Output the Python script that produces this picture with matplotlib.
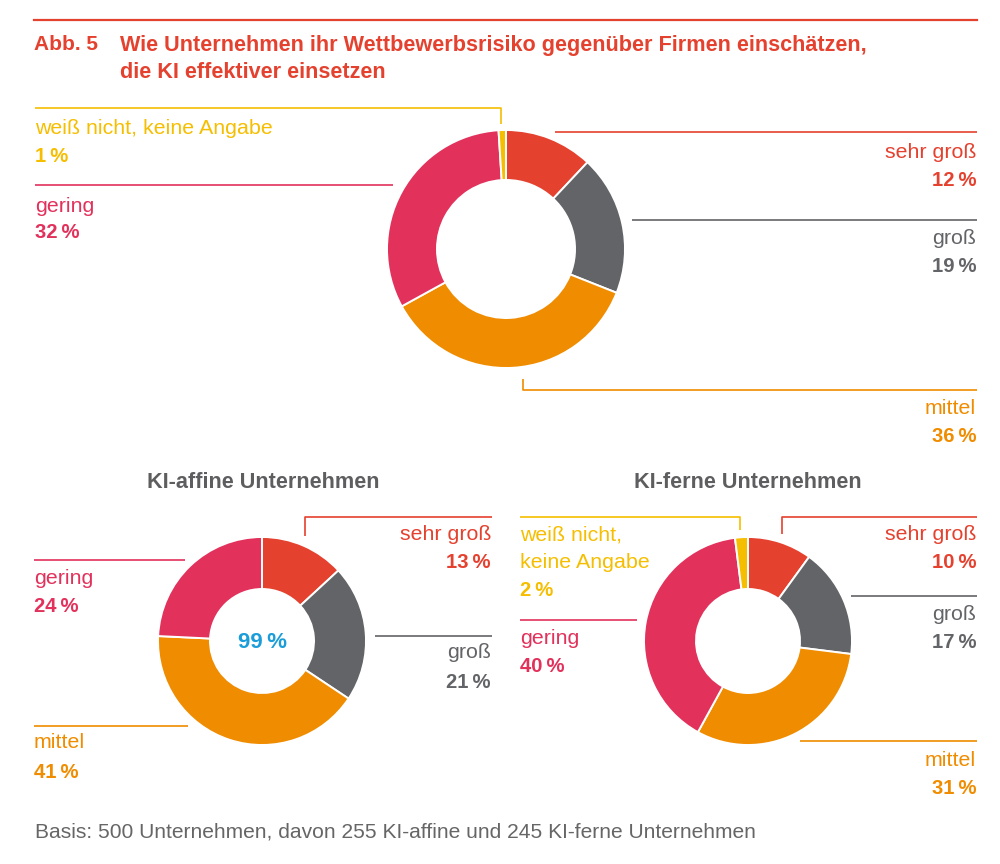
import matplotlib
matplotlib.use("Agg")
import matplotlib.pyplot as plt

plt.rcParams['font.family'] = ['Liberation Sans', 'DejaVu Sans']

# Categories and colours (clockwise from 12 o'clock)
categories = ["sehr groß", "groß", "mittel", "gering", "weiß nicht, keine Angabe"]
cat_colors = ["#E5412F", "#636467", "#F08C00", "#E2315B", "#F6BE00"]

# Shares in percent
alle_werte = [12, 19, 36, 32, 1]
affin_werte = [13, 21, 41, 24]          # no "weiß nicht" slice
fern_werte = [10, 17, 31, 40, 2]
affin_summe = "99\u2009%"

title_nr = "Abb. 5"
title_lines = ["Wie Unternehmen ihr Wettbewerbsrisiko gegenüber Firmen einschätzen,",
               "die KI effektiver einsetzen"]
sub_titles = ["KI-affine Unternehmen", "KI-ferne Unternehmen"]
footer = "Basis: 500 Unternehmen, davon 255 KI-affine und 245 KI-ferne Unternehmen"

W, H = 1000, 864
red = "#E5412F"
grey_txt = "#5E5E60"

fig = plt.figure(figsize=(W / 100, H / 100), dpi=100)

# Overlay in pixel coordinates for rules, leader lines and text
ov = fig.add_axes([0, 0, 1, 1])
ov.set_xlim(0, W)
ov.set_ylim(H, 0)
ov.axis('off')


def donut(cx, cy, r, values, cols, hole):
    ax = fig.add_axes([(cx - r) / W, 1 - (cy + r) / H, 2 * r / W, 2 * r / H])
    ax.pie(values, colors=cols, startangle=90, counterclock=False, radius=1,
           wedgeprops=dict(width=1 - hole, edgecolor='white', linewidth=1.4))
    ax.set_xlim(-1, 1)
    ax.set_ylim(-1, 1)
    ax.set_aspect('equal')
    ax.axis('off')
    return ax


def pct(v):
    return f"{v}\u2009%"


def label(x, ys, name_lines, value, color, ha='left'):
    # name in regular weight, value in bold below
    for y, t in zip(ys[:-1], name_lines):
        ov.text(x, y, t, color=color, fontsize=15.4, ha=ha, va='center')
    ov.text(x, ys[-1], pct(value), color=color, fontsize=14.6, ha=ha, va='center',
            fontweight='bold')


def leader(xs, ys, color):
    ov.plot(xs, ys, color=color, lw=1.2, solid_capstyle='butt')


# header
ov.plot([34, 977], [20, 20], color=red, lw=1.6)
ov.text(34, 45, title_nr, color=red, fontsize=15, fontweight='bold', va='center')
ov.text(120, 45, title_lines[0], color=red, fontsize=15.6, fontweight='bold', va='center')
ov.text(120, 73, title_lines[1], color=red, fontsize=15.6, fontweight='bold', va='center')

# main donut
donut(506, 249, 119, alle_werte, cat_colors, 0.58)

leader([35, 501, 501], [108, 108, 124], cat_colors[4])
label(35, [128, 156], [categories[4]], alle_werte[4], cat_colors[4])
leader([35, 393], [185, 185], cat_colors[3])
label(35, [206, 232], [categories[3]], alle_werte[3], cat_colors[3])
leader([555, 977], [132, 132], cat_colors[0])
label(976, [153, 180], [categories[0]], alle_werte[0], cat_colors[0], 'right')
leader([632, 977], [220, 220], cat_colors[1])
label(976, [239, 267], [categories[1]], alle_werte[1], cat_colors[1], 'right')
leader([523, 523, 977], [379, 390, 390], cat_colors[2])
label(976, [409, 437], [categories[2]], alle_werte[2], cat_colors[2], 'right')

# KI-affine
ov.text(263, 482, sub_titles[0], color=grey_txt, fontsize=15.6, fontweight='bold',
        ha='center', va='center')
donut(262, 641, 104, affin_werte, cat_colors[:4], 0.5)
ov.text(262, 643, affin_summe, color="#1B9DD9", fontsize=16, fontweight='bold',
        ha='center', va='center')

leader([305, 305, 492], [536, 517, 517], cat_colors[0])
label(491, [535, 563], [categories[0]], affin_werte[0], cat_colors[0], 'right')
leader([375, 492], [636, 636], cat_colors[1])
label(491, [653, 682], [categories[1]], affin_werte[1], cat_colors[1], 'right')
leader([34, 185], [560, 560], cat_colors[3])
label(34, [578, 607], [categories[3]], affin_werte[3], cat_colors[3])
leader([34, 188], [726, 726], cat_colors[2])
label(34, [743, 772], [categories[2]], affin_werte[2], cat_colors[2])

# KI-ferne
ov.text(748, 482, sub_titles[1], color=grey_txt, fontsize=15.6, fontweight='bold',
        ha='center', va='center')
donut(748, 641, 104, fern_werte, cat_colors, 0.5)

leader([520, 740, 740], [517, 517, 530], cat_colors[4])
label(520, [535, 563, 591], ["weiß nicht,", "keine Angabe"], fern_werte[4], cat_colors[4])
leader([520, 637], [620, 620], cat_colors[3])
label(520, [638, 666], [categories[3]], fern_werte[3], cat_colors[3])
leader([782, 782, 977], [534, 517, 517], cat_colors[0])
label(976, [535, 563], [categories[0]], fern_werte[0], cat_colors[0], 'right')
leader([851, 977], [596, 596], cat_colors[1])
label(976, [614, 642], [categories[1]], fern_werte[1], cat_colors[1], 'right')
leader([800, 977], [741, 741], cat_colors[2])
label(976, [760, 788], [categories[2]], fern_werte[2], cat_colors[2], 'right')

# footer
ov.text(35, 832, footer, color="#666666", fontsize=15.1, va='center')

fig.savefig("out.png", dpi=100, facecolor='white')
